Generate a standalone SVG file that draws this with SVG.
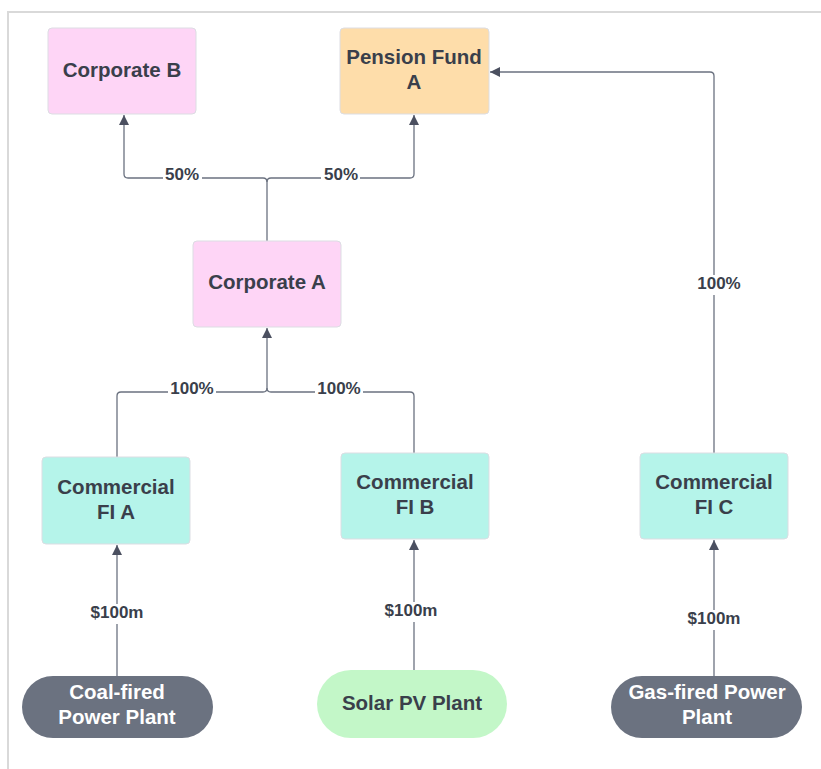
<svg xmlns="http://www.w3.org/2000/svg" width="821" height="769" viewBox="0 0 821 769">
<style>
.box{stroke:#dcdde3;stroke-width:1}
.t{font-family:"Liberation Sans",Arial,sans-serif;font-weight:bold;font-size:20.5px;fill:#3a3f4b;text-anchor:middle;dominant-baseline:central}
.w{fill:#ffffff}
.c{fill:none;stroke:#6b7280;stroke-width:1.3}
.lb{font-family:"Liberation Sans",Arial,sans-serif;font-weight:bold;font-size:17px;fill:#3a3f4b;text-anchor:middle;dominant-baseline:central}
.bg{fill:#ffffff}
</style>
<defs>
<marker id="ah" viewBox="0 0 10 10" refX="10" refY="5" markerWidth="10" markerHeight="10" markerUnits="userSpaceOnUse" orient="auto">
<path d="M0,0 L10,5 L0,10 Z" fill="#4b5060"/>
</marker>
</defs>
<rect width="821" height="769" fill="#ffffff"/>
<path d="M8,769 V12 H821" fill="none" stroke="#d9d9d9" stroke-width="2"/>
<g id="connectors">
<path class="c" d="M267,241 V182 Q267,178 263,178 H128 Q124,178 124,174 V115" marker-end="url(#ah)"/>
<path class="c" d="M267,182 Q267,178 271,178 H410 Q414,178 414,174 V115" marker-end="url(#ah)"/>
<path class="c" d="M117,457 V396 Q117,392 121,392 H263 Q267,392 267,388 V328" marker-end="url(#ah)"/>
<path class="c" d="M414,453 V396 Q414,392 410,392 H271 Q267,392 267,388"/>
<path class="c" d="M714,453 V76 Q714,72 710,72 H490" marker-end="url(#ah)"/>
<path class="c" d="M117,676 V545" marker-end="url(#ah)"/>
<path class="c" d="M414,670 V540" marker-end="url(#ah)"/>
<path class="c" d="M714,676 V540" marker-end="url(#ah)"/>
<rect class="bg" x="163" y="166" width="39" height="20"/>
<text class="lb" x="182" y="174">50%</text>
<rect class="bg" x="321" y="166" width="39" height="20"/>
<text class="lb" x="341" y="174">50%</text>
<rect class="bg" x="168" y="380" width="48" height="20"/>
<text class="lb" x="192" y="388">100%</text>
<rect class="bg" x="315" y="380" width="48" height="20"/>
<text class="lb" x="339" y="388">100%</text>
<rect class="bg" x="695" y="275" width="48" height="20"/>
<text class="lb" x="719" y="283">100%</text>
<rect class="bg" x="86" y="604" width="62" height="20"/>
<text class="lb" x="117" y="612">$100m</text>
<rect class="bg" x="380" y="602" width="62" height="20"/>
<text class="lb" x="411" y="610">$100m</text>
<rect class="bg" x="683" y="610" width="62" height="20"/>
<text class="lb" x="714" y="618">$100m</text>
</g>
<g id="corporate-b">
<rect class="box" x="48" y="28" width="148" height="86" rx="4" fill="#fed5f6"/>
<text class="t" x="122" y="69">Corporate B</text>
</g>
<g id="pension-fund-a">
<rect class="box" x="340" y="28" width="149" height="86" rx="4" fill="#feddaa"/>
<text class="t" x="414" y="56">Pension Fund</text>
<text class="t" x="414" y="81">A</text>
</g>
<g id="corporate-a">
<rect class="box" x="193" y="241" width="148" height="86" rx="4" fill="#fed5f6"/>
<text class="t" x="267" y="281">Corporate A</text>
</g>
<g id="commercial-fi-a">
<rect class="box" x="42" y="457" width="148" height="87" rx="4" fill="#b5f4ea"/>
<text class="t" x="116" y="486">Commercial</text>
<text class="t" x="116" y="511">FI A</text>
</g>
<g id="commercial-fi-b">
<rect class="box" x="341" y="453" width="148" height="86" rx="4" fill="#b5f4ea"/>
<text class="t" x="415" y="481">Commercial</text>
<text class="t" x="415" y="506">FI B</text>
</g>
<g id="commercial-fi-c">
<rect class="box" x="640" y="453" width="148" height="86" rx="4" fill="#b5f4ea"/>
<text class="t" x="714" y="481">Commercial</text>
<text class="t" x="714" y="506">FI C</text>
</g>
<g id="coal-fired-power-plant">
<rect x="22" y="676" width="191" height="62" rx="31" fill="#6b7280"/>
<text class="t w" x="117" y="691">Coal-fired</text>
<text class="t w" x="117" y="716">Power Plant</text>
</g>
<g id="solar-pv-plant">
<rect x="317" y="670" width="190" height="68" rx="34" fill="#c3f7c8"/>
<text class="t" x="412" y="702">Solar PV Plant</text>
</g>
<g id="gas-fired-power-plant">
<rect x="611" y="676" width="191" height="62" rx="31" fill="#6b7280"/>
<text class="t w" x="707" y="691">Gas-fired Power</text>
<text class="t w" x="707" y="716">Plant</text>
</g>
</svg>
